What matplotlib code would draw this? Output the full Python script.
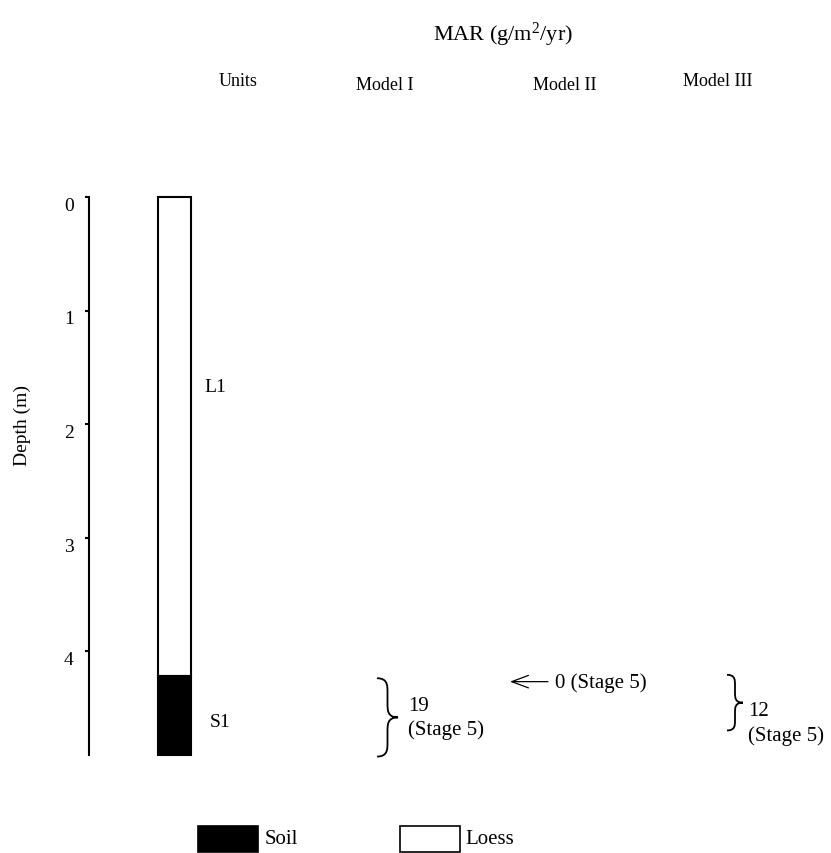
import matplotlib
matplotlib.use("Agg")
import matplotlib.pyplot as plt
from matplotlib.patches import Rectangle, PathPatch
from matplotlib.path import Path

plt.rcParams["font.family"] = ["Liberation Serif", "DejaVu Serif"]
plt.rcParams["mathtext.fontset"] = "custom"
plt.rcParams["mathtext.rm"] = "Liberation Serif"
plt.rcParams["mathtext.it"] = "Liberation Serif:italic"

# ---- data -------------------------------------------------------------
unit_names = ["L1", "S1"]
unit_types = ["Loess", "Soil"]
unit_tops = [0.0, 4.22]
unit_bottoms = [4.22, 4.92]
unit_label_depths = [1.67, 4.62]

depth_ticks = [0, 1, 2, 3, 4]
section_bottom = 4.92

model_names = ["Model I", "Model II", "Model III"]
mar_values = [19, 0, 12]
mar_stages = ["Stage 5", "Stage 5", "Stage 5"]
# depth range each MAR estimate refers to (brace span / arrow depth)
mar_tops = [4.24, 4.27, 4.21]
mar_bottoms = [4.93, 4.27, 4.70]

legend_types = ["Soil", "Loess"]
type_colors = {"Soil": "black", "Loess": "white"}

# ---- page geometry (pixels) -------------------------------------------
W, H = 831, 854
top_px, px_per_m = 198, 113.5


def depth_at(ypx):
    return (ypx - top_px) / px_per_m


fig = plt.figure(figsize=(W / 100, H / 100), dpi=100)
ax = fig.add_axes([0, 0, 1, 1])
ax.set_xlim(0, W)
ax.set_ylim(depth_at(H), depth_at(0))

# depth axis
for side in ["top", "right", "bottom"]:
    ax.spines[side].set_visible(False)
ax.spines["left"].set_position(("data", 89))
ax.spines["left"].set_bounds(0, section_bottom)
ax.spines["left"].set_linewidth(1.5)
ax.set_xticks([])
ax.set_yticks(depth_ticks)
ax.set_yticklabels([str(t) for t in depth_ticks])
ax.tick_params(axis="y", direction="out", length=3, width=1.5, pad=8,
               labelsize=14)
for lab in ax.get_yticklabels():
    lab.set_va("top")
ax.text(22, 2.0, "Depth (m)", rotation=90, ha="center", va="center",
        fontsize=14)

# stratigraphic column
col_x, col_w = 158, 33
for name, kind, top, bot in zip(unit_names, unit_types, unit_tops, unit_bottoms):
    ax.add_patch(Rectangle((col_x, top), col_w, bot - top,
                           facecolor=type_colors[kind], edgecolor="black",
                           linewidth=1.5))
ax.text(204, unit_label_depths[0], unit_names[0], ha="left", va="center",
        fontsize=14)
ax.text(210, unit_label_depths[1], unit_names[1], ha="left", va="center",
        fontsize=14)


def brace(x0, w, y1, y2):
    xm, xt = x0 + w * 0.5, x0 + w
    ym = (y1 + y2) / 2
    q = (y2 - y1) * 0.09
    verts = [(x0, y1), (xm, y1), (xm, y1 + q), (xm, y1 + 2 * q),
             (xm, ym - 2 * q),
             (xm, ym - q), (xm, ym), (xt, ym),
             (xm, ym), (xm, ym + q), (xm, ym + 2 * q),
             (xm, y2 - 2 * q),
             (xm, y2 - q), (xm, y2), (x0, y2)]
    codes = [Path.MOVETO] + [Path.CURVE4] * 3 + [Path.LINETO] + \
        [Path.CURVE4] * 6 + [Path.LINETO] + [Path.CURVE4] * 3
    ax.add_patch(PathPatch(Path(verts, codes), facecolor="none",
                           edgecolor="black", linewidth=1.3))
    return xt, ym


# headers
fig.text(503 / W, 1 - 35 / H, "MAR (g/m$^{2}$/yr)", ha="center", va="center",
         fontsize=16)
fig.text(238 / W, 1 - 82 / H, "Units", ha="center", va="center", fontsize=13)
for name, cx, cy in zip(model_names, [385, 565, 718], [85, 86, 82]):
    fig.text(cx / W, 1 - cy / H, name, ha="center", va="center", fontsize=13)

# Model I: brace
xt, ym = brace(377, 21, mar_tops[0], mar_bottoms[0])
ax.text(xt + 10, ym, f"{mar_values[0]}\n({mar_stages[0]})", ha="left",
        va="center", fontsize=15, linespacing=1.3)

# Model II: arrow
ax.annotate("", xy=(510, mar_tops[1]), xytext=(548, mar_tops[1]),
            arrowprops=dict(arrowstyle="->,head_length=1.2,head_width=0.45",
                            color="black", lw=0.9, shrinkA=0, shrinkB=0))
ax.text(555, mar_tops[1], f"{mar_values[1]} ({mar_stages[1]})", ha="left",
        va="center", fontsize=15)

# Model III: brace
xt, ym = brace(727, 16, mar_tops[2], mar_bottoms[2])
ax.text(xt + 5, depth_at(724), f"{mar_values[2]}\n({mar_stages[2]})",
        ha="left", va="center", fontsize=15, linespacing=1.3)

# legend boxes
for kind, bx, tx in zip(legend_types, [198, 400], [265, 465]):
    ax.add_patch(Rectangle((bx, depth_at(827)), 60, depth_at(853) - depth_at(827),
                           facecolor=type_colors[kind], edgecolor="black",
                           linewidth=1.2, clip_on=False))
    ax.text(tx, depth_at(840), kind, ha="left", va="center", fontsize=15)

fig.savefig("out.png", dpi=100)
